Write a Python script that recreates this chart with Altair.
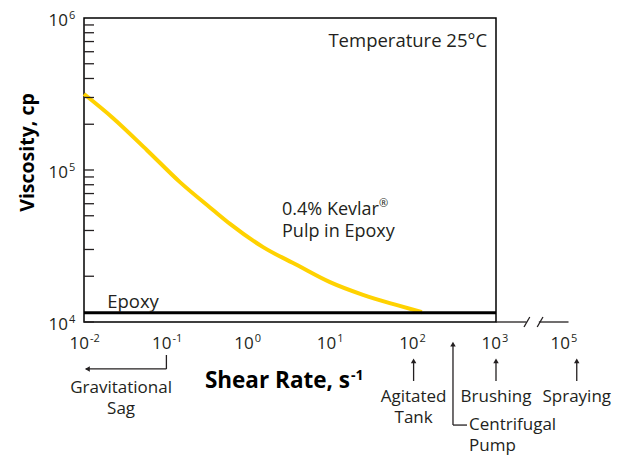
import altair as alt
import pandas as pd

FONT = "Open Sans"
INK = "#231f20"

# ---- data ----
shear_rate = [0.01, 0.0224, 0.0582, 0.146, 0.368, 0.592, 1.49, 3.85, 9.66, 24.3, 63.1, 126]
kevlar_visc = [316000, 220000, 135000, 83200, 54600, 44200, 31100, 23700, 18300, 15100, 12900, 11600]
epoxy_rate = [0.01, 1000]
epoxy_visc = [11500, 11500]

# tick labels (base 10 with exponent); the last x label sits past the axis break
x_label_pos = [0.01, 0.1, 1, 10, 100, 1000, 6870]
x_label_exp = ["-2", "-1", "0", "1", "2", "3", "5"]
y_label_pos = [10000, 100000, 1000000]
y_label_exp = ["4", "5", "6"]
y_minor = [10000, 20000, 30000, 40000, 50000, 60000, 70000, 80000, 90000,
           100000, 200000, 300000, 400000, 500000, 600000, 700000, 800000, 900000]

# broken-axis extension beyond 10^3 (shear-rate units)
ext_seg_x = [1000, 3311]
ext_seg_x2 = [2344, 7586]
slash_x = [2188, 3162]
slash_x2 = [2570, 3715]
slash_y = [9268, 9268]
slash_y2 = [10789, 10789]

# application annotations
app_text = ["Gravitational\nSag", "Agitated\nTank", "Brushing", "Spraying"]
app_x = [0.0282, 100, 1000, 9550]
app_y = [3412, 2976, 2976, 2976]
pump_text = ["Centrifugal\nPump"]
pump_x = [471]
pump_y = [1945]

arrow_x = [0.1, 0.1, 100, 1000, 9550, 300.6, 300.6]
arrow_x2 = [0.1, 0.0105, 100, 1000, 9550, 300.6, 444.6]
arrow_y = [6067, 4909, 4093, 4093, 4093, 2099, 2099]
arrow_y2 = [4909, 4909, 5495, 5495, 5495, 7079, 2099]
head_up_x = [100, 1000, 9550, 300.6]
head_up_y = [5559, 5559, 5559, 7161]
head_left_x = [0.011]
head_left_y = [4909]

notes_text = ["Temperature 25°C", "0.4% Kevlar\nPulp in Epoxy", "Epoxy"]
notes_x = [780, 2.53, 0.0191]
notes_y = [644000, 50570, 12360]
notes_align = ["right", "left", "left"]
notes_size = [18.5, 18, 18.5]

x_title_main = "Shear Rate, s"
x_title_sup = "-1"
x_title_x = 16.9

# ---- scales ----
xs = alt.Scale(type="log", domain=[0.01, 1000])
ys = alt.Scale(type="log", domain=[10000, 1000000])

def X(f="x"):
    return alt.X(f"{f}:Q", scale=xs)

def Y(f="y"):
    return alt.Y(f"{f}:Q", scale=ys)

curve_df = pd.DataFrame({"rate": shear_rate, "visc": kevlar_visc})
epoxy_df = pd.DataFrame({"rate": epoxy_rate, "visc": epoxy_visc})

curve = alt.Chart(curve_df).mark_line(color="#FFD200", strokeWidth=4, interpolate="monotone").encode(
    x=alt.X("rate:Q", scale=xs, axis=alt.Axis(labels=False, ticks=False, domain=False, grid=False, title=None)),
    y=alt.Y("visc:Q", scale=ys, axis=alt.Axis(
        labels=False, ticks=False, domain=False, grid=False,
        title="Viscosity, cp", titleFontSize=19.5, titleFontWeight="bold", titleFont=FONT,
        titleColor="black", titleX=-57, titleY=134, titleBaseline="middle", titleAlign="center",
        titleAngle=270)))
epoxy = alt.Chart(epoxy_df).mark_line(color="black", strokeWidth=3).encode(x=X("rate"), y=Y("visc"))

minor_df = pd.DataFrame({"visc": y_minor})
minor = alt.Chart(minor_df).mark_rule(color=INK, strokeWidth=1.3).encode(
    y=Y("visc"), x=alt.value(0), x2=alt.value(10))

# tick labels
xl_df = pd.DataFrame({"x": x_label_pos, "e": x_label_exp, "y": [10000] * len(x_label_pos)})
xl_base = alt.Chart(xl_df).mark_text(font=FONT, fontSize=17, color=INK, align="right",
                                     baseline="alphabetic", dx=5, dy=27, text="10").encode(x=X(), y=Y())
xl_exp = alt.Chart(xl_df).mark_text(font=FONT, fontSize=11, color=INK, align="left",
                                    baseline="alphabetic", dx=6, dy=20).encode(x=X(), y=Y(), text="e:N")
yl_df = pd.DataFrame({"y": y_label_pos, "e": y_label_exp, "x": [0.01] * len(y_label_pos)})
yl_base = alt.Chart(yl_df).mark_text(font=FONT, fontSize=17, color=INK, align="right",
                                     baseline="alphabetic", dx=-16, dy=8, text="10").encode(x=X(), y=Y())
yl_exp = alt.Chart(yl_df).mark_text(font=FONT, fontSize=11, color=INK, align="left",
                                    baseline="alphabetic", dx=-15, dy=1).encode(x=X(), y=Y(), text="e:N")

# x title with superscript
xt_df = pd.DataFrame({"x": [x_title_x], "y": [10000], "t": [x_title_main], "s": [x_title_sup]})
xt_main = alt.Chart(xt_df).mark_text(font=FONT, fontSize=22.5, fontWeight="bold", color="black",
                                     align="right", baseline="alphabetic", dy=66).encode(x=X(), y=Y(), text="t:N")
xt_sup = alt.Chart(xt_df).mark_text(font=FONT, fontSize=14, fontWeight="bold", color="black",
                                    align="left", baseline="alphabetic", dx=1, dy=58).encode(x=X(), y=Y(), text="s:N")

ext_df = pd.DataFrame({"x": ext_seg_x, "x2": ext_seg_x2, "y": [10000, 10000]})
ext = alt.Chart(ext_df).mark_rule(color=INK, strokeWidth=1.3).encode(x=X(), x2="x2:Q", y=Y())
slash_df = pd.DataFrame({"x": slash_x, "x2": slash_x2, "y": slash_y, "y2": slash_y2})
slash = alt.Chart(slash_df).mark_rule(color=INK, strokeWidth=1.3).encode(x=X(), x2="x2:Q", y=Y(), y2="y2:Q")

arrow_df = pd.DataFrame({"x": arrow_x, "x2": arrow_x2, "y": arrow_y, "y2": arrow_y2})
arrows = alt.Chart(arrow_df).mark_rule(color=INK, strokeWidth=1.3).encode(x=X(), x2="x2:Q", y=Y(), y2="y2:Q")
hu_df = pd.DataFrame({"x": head_up_x, "y": head_up_y})
heads_up = alt.Chart(hu_df).mark_point(shape="triangle-up", filled=True, color=INK, size=30, opacity=1).encode(
    x=X(), y=Y())
hl_df = pd.DataFrame({"x": head_left_x, "y": head_left_y})
heads_left = alt.Chart(hl_df).mark_point(shape="triangle-left", filled=True, color=INK, size=30, opacity=1).encode(
    x=X(), y=Y())

app_df = pd.DataFrame({"x": app_x, "y": app_y, "t": app_text})
apps = alt.Chart(app_df).mark_text(font=FONT, fontSize=17, color=INK, align="center",
                                   baseline="alphabetic", lineBreak="\n", lineHeight=21).encode(
    x=X(), y=Y(), text="t:N")
pump_df = pd.DataFrame({"x": pump_x, "y": pump_y, "t": pump_text})
pump = alt.Chart(pump_df).mark_text(font=FONT, fontSize=17, color=INK, align="left",
                                    baseline="alphabetic", lineBreak="\n", lineHeight=21).encode(
    x=X(), y=Y(), text="t:N")

notes_layers = []
for t, x, y, a, s in zip(notes_text, notes_x, notes_y, notes_align, notes_size):
    d = pd.DataFrame({"x": [x], "y": [y], "t": [t]})
    notes_layers.append(alt.Chart(d).mark_text(font=FONT, fontSize=s, color=INK, align=a,
                                               baseline="alphabetic", lineBreak="\n", lineHeight=22).encode(
        x=X(), y=Y(), text="t:N"))
reg_df = pd.DataFrame({"x": [notes_x[1]], "y": [notes_y[1]], "t": ["®"]})
reg = alt.Chart(reg_df).mark_text(font=FONT, fontSize=11, color=INK, align="left",
                                  baseline="alphabetic", dx=97, dy=-8).encode(x=X(), y=Y(), text="t:N")

chart = alt.layer(curve, epoxy, minor, xl_base, xl_exp, yl_base, yl_exp, xt_main, xt_sup,
                  ext, slash, arrows, heads_up, heads_left,
                  apps, pump, *notes_layers, reg).properties(
    width=412, height=304,
    autosize=alt.AutoSizeParams(type="none"),
    padding={"left": 76, "top": 10, "right": 118, "bottom": 133},
    background="white",
).configure_view(stroke="black", strokeWidth=1.5)

chart.save("out.html", embed_options={"renderer": "svg", "actions": False})
